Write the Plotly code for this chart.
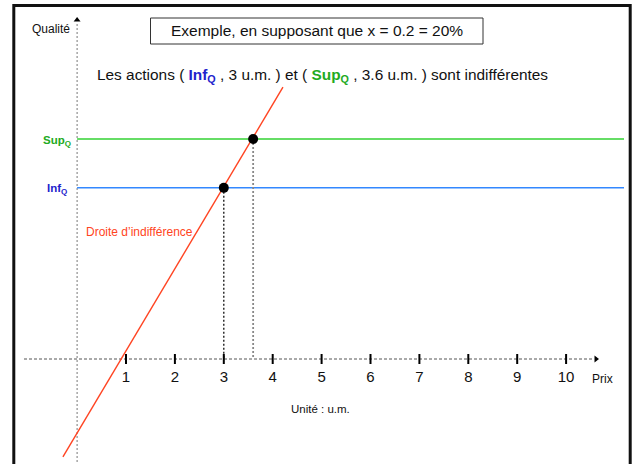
import plotly.graph_objects as go

W, H = 632, 464

# ---- data ----
prix_ticks = [1, 2, 3, 4, 5, 6, 7, 8, 9, 10]
tick_labels = ["1", "2", "3", "4", "5", "6", "7", "8", "9", "10"]
inf_q = 3.5
sup_q = 4.5
prix_inf = 3.0
prix_sup = 3.6
droite_x = [-0.29, 4.21]
droite_y = [-2.0, 5.56]

# ---- pixel mapping helpers (layout only) ----
X0PX, Y0PX, UNIT = 77.1, 359.0, 48.9
xr = [-X0PX / UNIT, (W - X0PX) / UNIT]
yr = [(Y0PX - H) / UNIT, Y0PX / UNIT]


def dx(px):
    return (px - X0PX) / UNIT


def dy(py):
    return (Y0PX - py) / UNIT


def pxp(px):
    return px / W


def pyp(py):
    return 1 - py / H


FONT = "Liberation Sans, Arial, sans-serif"
fig = go.Figure()

# y axis (dotted)
fig.add_trace(go.Scatter(x=[0, 0], y=[dy(470), dy(22)], mode="lines",
                         line=dict(color="#777777", width=1, dash="2px,2px"), hoverinfo="skip"))
# x axis (dashed)
fig.add_trace(go.Scatter(x=[dx(24), dx(594)], y=[0, 0], mode="lines",
                         line=dict(color="#555555", width=1, dash="3px,2px"), hoverinfo="skip"))
# arrows
fig.add_trace(go.Scatter(x=[0], y=[dy(20)], mode="markers",
                         marker=dict(symbol="triangle-up", size=6, color="black"), hoverinfo="skip"))
fig.add_trace(go.Scatter(x=[dx(596)], y=[0], mode="markers",
                         marker=dict(symbol="triangle-right", size=6, color="black"), hoverinfo="skip"))

# Sup / Inf horizontal lines
fig.add_trace(go.Scatter(x=[0, dx(624)], y=[sup_q, sup_q], mode="lines",
                         line=dict(color="#66dd66", width=2), hoverinfo="skip"))
fig.add_trace(go.Scatter(x=[0, dx(624)], y=[inf_q, inf_q], mode="lines",
                         line=dict(color="#3388ff", width=1.5), hoverinfo="skip"))

# vertical projections
fig.add_trace(go.Scatter(x=[prix_inf, prix_inf], y=[inf_q, 0], mode="lines",
                         line=dict(color="#111111", width=1.3, dash="2px,2px"), hoverinfo="skip"))
fig.add_trace(go.Scatter(x=[prix_sup, prix_sup], y=[sup_q, 0], mode="lines",
                         line=dict(color="#888888", width=1.8, dash="2px,2px"), hoverinfo="skip"))

# ticks
tx, ty = [], []
for t in prix_ticks:
    tx += [t, t, None]
    ty += [dy(354), dy(364), None]
fig.add_trace(go.Scatter(x=tx, y=ty, mode="lines",
                         line=dict(color="black", width=2), hoverinfo="skip"))

# indifference line
fig.add_trace(go.Scatter(x=droite_x, y=droite_y, mode="lines",
                         line=dict(color="#ff4422", width=1.4), hoverinfo="skip"))

# points
fig.add_trace(go.Scatter(x=[prix_inf, prix_sup], y=[inf_q, sup_q], mode="markers",
                         marker=dict(color="black", size=10), hoverinfo="skip"))

# tick labels
fig.add_trace(go.Scatter(x=prix_ticks, y=[dy(378)] * len(prix_ticks), mode="text",
                         text=tick_labels, textposition="middle center",
                         textfont=dict(family=FONT, size=15, color="#111111"), hoverinfo="skip"))

shapes = [
    dict(type="rect", xref="paper", yref="paper",
         x0=pxp(13.8), x1=pxp(630.2), y0=pyp(480), y1=pyp(5.5),
         line=dict(color="#111111", width=3)),
    dict(type="rect", xref="paper", yref="paper",
         x0=pxp(150.5), x1=pxp(483), y0=pyp(44), y1=pyp(18),
         line=dict(color="#333333", width=1)),
]

annotations = [
    dict(text="Exemple, en supposant que x = 0.2 = 20%", x=pxp(317), y=pyp(31),
         font=dict(size=15.5, color="#111111")),
    dict(text="Les actions ( <b><span style='color:#2222cc'>Inf<sub>Q</sub></span></b> , 3 u.m. ) et ( "
              "<b><span style='color:#22aa22'>Sup<sub>Q</sub></span></b> , 3.6 u.m. ) sont indifférentes",
         x=pxp(95), y=pyp(76), xanchor="left", font=dict(size=15.4, color="#111111")),
    dict(text="Qualité", x=pxp(72), y=pyp(29), xanchor="right", font=dict(size=12, color="#111111")),
    dict(text="<b>Sup<sub>Q</sub></b>", x=pxp(57), y=pyp(141), font=dict(size=11.5, color="#22aa22")),
    dict(text="<b>Inf<sub>Q</sub></b>", x=pxp(57), y=pyp(189), font=dict(size=11.5, color="#2222cc")),
    dict(text="Droite d’indifférence", x=pxp(84), y=pyp(232), xanchor="left",
         font=dict(size=12, color="#ff4422")),
    dict(text="Prix", x=pxp(602), y=pyp(379), font=dict(size=12, color="#111111")),
    dict(text="Unité : u.m.", x=pxp(320), y=pyp(409), font=dict(size=11.5, color="#111111")),
]
for a in annotations:
    a.setdefault("xref", "paper")
    a.setdefault("yref", "paper")
    a.setdefault("showarrow", False)
    a.setdefault("xanchor", "center")
    a.setdefault("yanchor", "middle")
    a["font"].setdefault("family", FONT)

fig.update_layout(
    width=W, height=H, autosize=False,
    margin=dict(l=0, r=0, t=0, b=0, pad=0),
    paper_bgcolor="white", plot_bgcolor="white",
    showlegend=False,
    xaxis=dict(range=xr, visible=False, fixedrange=True),
    yaxis=dict(range=yr, visible=False, fixedrange=True),
    shapes=shapes, annotations=annotations,
)

fig.write_html("out.html", config={"displayModeBar": False},
               post_script="document.body.style.margin='0px';")
